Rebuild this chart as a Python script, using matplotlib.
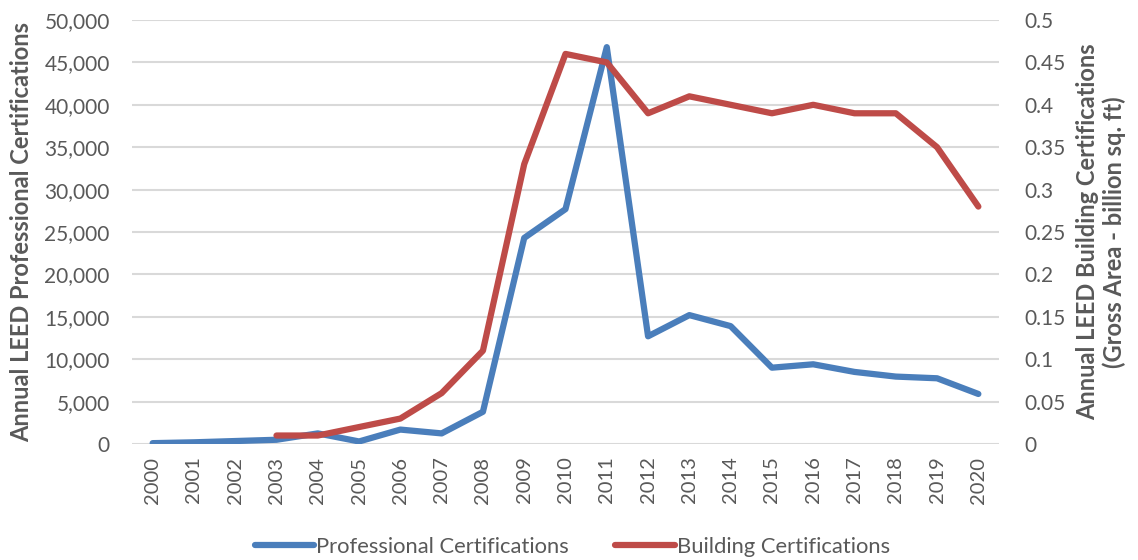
import matplotlib
matplotlib.use("Agg")
import matplotlib.pyplot as plt
from matplotlib.ticker import FuncFormatter, MultipleLocator
from matplotlib.lines import Line2D

plt.rcParams['font.family'] = ['Lato', 'DejaVu Sans']

years = [str(y) for y in range(2000, 2021)]
professional = [100, 200, 350, 500, 1250, 300, 1700, 1250, 3800, 24300, 27700,
                46800, 12700, 15200, 13900, 9000, 9400, 8500, 7950, 7750, 5900]
building_years = years[3:]
building = [0.01, 0.01, 0.02, 0.03, 0.06, 0.11, 0.33, 0.46, 0.45, 0.39, 0.41,
            0.40, 0.39, 0.40, 0.39, 0.39, 0.35, 0.28]

blue = '#4A7EBB'
red = '#BE4B48'
grey = '#595959'

fig = plt.figure(figsize=(11.38, 5.6), dpi=100)
ax = fig.add_axes([132/1138, 1-444/560, (999-132)/1138, (444-20)/560])
ax2 = ax.twinx()

x = list(range(len(years)))
xb = [years.index(y) for y in building_years]
ax.plot(x, professional, color=blue, lw=4.5, solid_capstyle='round', solid_joinstyle='round', zorder=3)
ax2.plot(xb, building, color=red, lw=4.5, solid_capstyle='round', solid_joinstyle='round', zorder=3)

ax.set_xlim(-0.5, len(years) - 0.5)
ax.set_ylim(0, 50000)
ax2.set_ylim(0, 0.5)
ax.yaxis.set_major_locator(MultipleLocator(5000))
ax2.yaxis.set_major_locator(MultipleLocator(0.05))
ax.yaxis.set_major_formatter(FuncFormatter(lambda v, p: f"{int(v):,}"))
ax2.yaxis.set_major_formatter(FuncFormatter(lambda v, p: ('0' if abs(v) < 1e-9 else f"{v:.2f}".rstrip('0').rstrip('.'))))

ax.set_xticks(x)
ax.set_xticklabels(years, rotation=90)
ax.grid(axis='y', color='#D9D9D9', lw=1.5, zorder=0)
ax.set_axisbelow(True)
for a in (ax, ax2):
    for s in a.spines.values():
        s.set_visible(False)
    a.tick_params(length=0, colors=grey, labelsize=15)
ax.tick_params(axis='x', labelsize=14.5, pad=9)
ax.tick_params(axis='y', pad=16)
ax2.tick_params(axis='y', pad=18)

ax.set_ylabel('Annual LEED Professional Certifications', fontsize=17, fontweight='bold', color=grey, labelpad=8)
ax2.set_ylabel('Annual LEED Building Certifications\n(Gross Area - billion sq. ft)', fontsize=17,
               fontweight='bold', color=grey, rotation=90, labelpad=8, linespacing=1.15)

handles = [Line2D([], [], color=blue, lw=4.5, solid_capstyle='round'),
           Line2D([], [], color=red, lw=4.5, solid_capstyle='round')]
leg = fig.legend(handles, ['Professional Certifications', 'Building Certifications'],
                 loc='lower center', bbox_to_anchor=(0.503, -0.03), ncol=2, frameon=False,
                 fontsize=15.8, handlelength=2.7, handletextpad=0.1, columnspacing=2.1)
for t in leg.get_texts():
    t.set_color(grey)

fig.savefig('out.png', dpi=100)
